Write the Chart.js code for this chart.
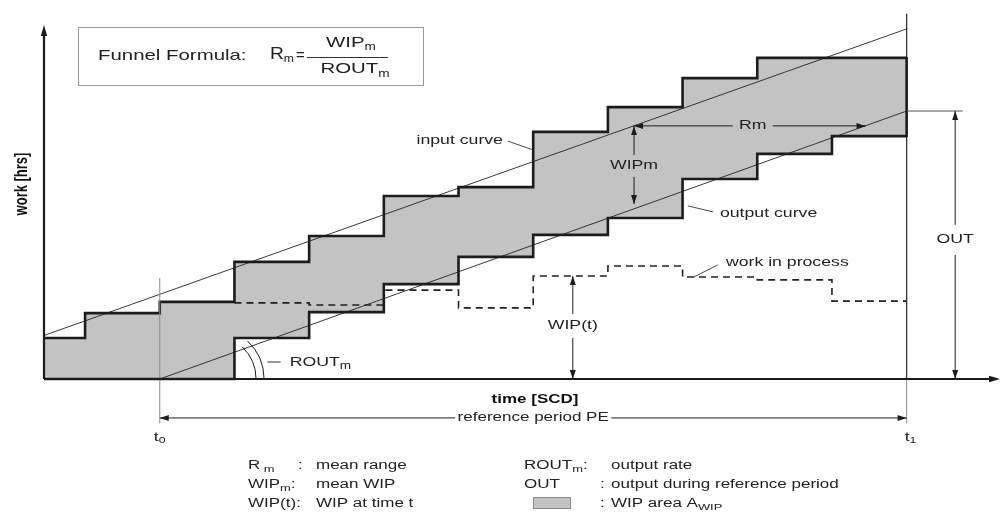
<!DOCTYPE html>
<html><head><meta charset="utf-8">
<script src="https://cdn.jsdelivr.net/npm/chart.js@4/dist/chart.umd.min.js"></script>
<style>html,body{margin:0;padding:0;background:#fff;overflow:hidden}canvas{display:block}</style>
</head><body>
<canvas id="c" width="1001" height="514"></canvas>
<script>
// ---- data (time in SCD, work in hrs) ----
const timeRange = [0, 128];
const workRange = [0, 100];
const inputT  = [0, 5.5, 15.5, 25.5, 35.5, 45.5, 55.5, 65.5, 75.5, 85.5, 95.5, 115.5];
const inputW  = [11.6, 18.6, 21.8, 33.1, 40.4, 51.7, 54.2, 69.8, 76.8, 85.0, 90.7, 90.7];
const outputT = [0, 25.5, 35.5, 45.5, 55.5, 65.5, 75.5, 85.5, 95.5, 105.5, 115.5];
const outputW = [0, 11.6, 18.9, 26.8, 34.5, 40.7, 45.5, 56.5, 63.6, 68.6, 68.6];
const wipT    = [25.5, 35.5, 45.5, 55.5, 65.5, 75.5, 85.5, 95.5, 105.5, 115.5];
const wipW    = [21.5, 20.9, 25.1, 20.1, 29.1, 31.9, 28.8, 28.0, 22.0, 22.0];
const inputLineT  = [0, 115.5];
const inputLineW  = [12.3, 98.9];
const outputLineT = [15.5, 115.5];
const outputLineW = [0, 75.7];
const periodT = [15.5, 115.5]; // t0, t1

// ---- annotation anchors (data units) ----
const annRm   = {w: 71.5, from: 79, to: 110, label: 94.9};
const annWipm = {t: 79, from: 71.5, to: 49.4, label: 60.2};
const annWipt = {t: 70.8, from: 29.1, to: 0, label: 15.0};
const annOut  = {t: 122, from: 75.7, to: 0, label: 39.3, tickTo: 123};

const FONT = '"Liberation Sans", Arial, Helvetica, sans-serif';
const SX = 1.36;
const INK = '#1c1c1c';
const GRAY = '#c3c3c3';

function txt(ctx, str, x, y, opt) {
  opt = opt || {};
  const size = opt.size || 13;
  const sx = opt.sx || SX;
  ctx.save();
  ctx.font = (opt.bold ? 'bold ' : '') + size + 'px ' + FONT;
  ctx.fillStyle = opt.color || '#222';
  ctx.textBaseline = 'middle';
  ctx.textAlign = 'left';
  const w = ctx.measureText(str).width * sx;
  let x0 = x;
  if (opt.align === 'center') x0 = x - w / 2;
  else if (opt.align === 'right') x0 = x - w;
  ctx.translate(x0, y);
  ctx.scale(sx, 1);
  ctx.fillText(str, 0, 0);
  ctx.restore();
  return w;
}
function rich(ctx, parts, x, y, opt) {
  opt = opt || {};
  const sx = opt.sx || SX;
  const widths = parts.map(p => { ctx.font = p[1] + 'px ' + FONT; return ctx.measureText(p[0]).width * sx; });
  const total = widths.reduce((a, b) => a + b, 0);
  let cx = opt.align === 'center' ? x - total / 2 : opt.align === 'right' ? x - total : x;
  parts.forEach((p, i) => { txt(ctx, p[0], cx, y + (p[2] || 0), {size: p[1], color: opt.color, sx: sx}); cx += widths[i]; });
  return total;
}
function seg(ctx, x1, y1, x2, y2, w, c, dash) {
  ctx.save();
  ctx.beginPath();
  ctx.lineWidth = w || 1;
  ctx.strokeStyle = c || INK;
  if (dash) ctx.setLineDash(dash);
  ctx.moveTo(x1, y1); ctx.lineTo(x2, y2);
  ctx.stroke();
  ctx.restore();
}
function head(ctx, x, y, dx, dy, len, half, c) {
  len = len || 9; half = half || 3;
  const L = Math.hypot(dx, dy), ux = dx / L, uy = dy / L;
  ctx.save();
  ctx.fillStyle = c || INK;
  ctx.beginPath();
  ctx.moveTo(x, y);
  ctx.lineTo(x - ux * len - uy * half, y - uy * len + ux * half);
  ctx.lineTo(x - ux * len + uy * half, y - uy * len - ux * half);
  ctx.closePath();
  ctx.fill();
  ctx.restore();
}
// double-headed dimension arrow with a gap for a label
function dim(ctx, x1, y1, x2, y2, gc, gh) {
  const horiz = Math.abs(y2 - y1) < 0.5;
  if (horiz) {
    const a = Math.min(x1, x2), b = Math.max(x1, x2);
    seg(ctx, a, y1, gc - gh, y1, 1);
    seg(ctx, gc + gh, y1, b, y1, 1);
    head(ctx, a, y1, -1, 0); head(ctx, b, y1, 1, 0);
  } else {
    const a = Math.min(y1, y2), b = Math.max(y1, y2);
    seg(ctx, x1, a, x1, gc - gh, 1);
    seg(ctx, x1, gc + gh, x1, b, 1);
    head(ctx, x1, a, 0, -1); head(ctx, x1, b, 0, 1);
  }
}

const annotate = {
  id: 'annotate',
  afterDatasetsDraw(chart) {
    const ctx = chart.ctx, xs = chart.scales.x, ys = chart.scales.y;
    const X = v => xs.getPixelForValue(v), Y = v => ys.getPixelForValue(v);

    // t0 / t1 reference lines
    seg(ctx, X(periodT[0]), Y(28.5), X(periodT[0]), Y(-12.5), 1, '#8a8a8a');
    seg(ctx, X(periodT[1]), Y(103.2), X(periodT[1]), Y(0), 1.3, '#333');
    seg(ctx, X(periodT[1]), Y(0), X(periodT[1]), Y(-12.5), 1, '#8a8a8a');
    // closing vertical of the WIP area at t1
    seg(ctx, X(inputT[inputT.length - 1]), Y(inputW[inputW.length - 1]) - 1, X(inputT[inputT.length - 1]), Y(outputW[outputW.length - 1]) + 1, 2.6, INK);

    // axes
    seg(ctx, X(0), Y(0), X(0), Y(workRange[1]) + 6, 2.2, INK);
    head(ctx, X(0), Y(workRange[1]), 0, -1, 11, 3.2);
    seg(ctx, X(0), Y(0), X(timeRange[1]) - 6, Y(0), 2.2, INK);
    head(ctx, X(timeRange[1]), Y(0), 1, 0, 11, 3.2);

    ctx.save();
    // Rm
    dim(ctx, X(annRm.from), Y(annRm.w), X(annRm.to), Y(annRm.w), X(annRm.label), 20);
    txt(ctx, 'Rm', X(annRm.label), Y(annRm.w), {align: 'center'});
    // WIPm
    dim(ctx, X(annWipm.t), Y(annWipm.from), X(annWipm.t), Y(annWipm.to), Y(annWipm.label), 11);
    txt(ctx, 'WIPm', X(annWipm.t), Y(annWipm.label), {align: 'center'});
    // WIP(t)
    dim(ctx, X(annWipt.t), Y(annWipt.from), X(annWipt.t), Y(annWipt.to), Y(annWipt.label), 12);
    txt(ctx, 'WIP(t)', X(annWipt.t), Y(annWipt.label), {align: 'center'});
    // OUT
    seg(ctx, X(periodT[1]), Y(annOut.from), X(annOut.tickTo), Y(annOut.from), 1, '#555');
    dim(ctx, X(annOut.t), Y(annOut.from), X(annOut.t), Y(annOut.to), Y(annOut.label), 15);
    txt(ctx, 'OUT', X(annOut.t), Y(annOut.label), {align: 'center'});

    // curve labels with leaders
    txt(ctx, 'input curve', X(61.45), Y(67.5), {align: 'right'});
    seg(ctx, X(62.1), Y(67.2), X(65.5), Y(64.7), 0.9, '#333');
    txt(ctx, 'output curve', X(90.5), Y(46.9));
    seg(ctx, X(86.2), Y(48.9), X(89.6), Y(47.2), 0.9, '#333');
    txt(ctx, 'work in process', X(91.3), Y(32.8));
    seg(ctx, X(87.0), Y(28.8), X(90.2), Y(32.2), 0.9, '#333');

    // ROUT_m angle marks
    ctx.strokeStyle = INK; ctx.lineWidth = 1;
    [44, 52].forEach(r => { ctx.beginPath(); ctx.arc(X(22.5), Y(0), r, -0.82, 0); ctx.stroke(); });
    seg(ctx, X(29.9), Y(4.8), X(31.7), Y(4.8), 1, '#333');
    rich(ctx, [['ROUT', 13, 0], ['m', 10, 4]], X(32.9), Y(4.8));

    // reference period
    const ry = Y(-11.0);
    dim(ctx, X(periodT[0]), ry, X(periodT[1]), ry, (X(periodT[0]) + X(periodT[1])) / 2, 78);
    txt(ctx, 'reference period PE', (X(periodT[0]) + X(periodT[1])) / 2, ry, {size: 12.5, align: 'center'});
    rich(ctx, [['t', 13, 0], ['0', 9, 4]], X(periodT[0]) - 6, 437);
    rich(ctx, [['t', 13, 0], ['1', 9, 4]], X(periodT[1]) - 2, 437);

    // axis titles
    txt(ctx, 'time [SCD]', 535, 400, {bold: true, size: 12.5, align: 'center', color: '#111'});
    ctx.save();
    ctx.translate(22, 184);
    ctx.font = 'bold 13px ' + FONT;
    ctx.fillStyle = '#111';
    ctx.scale(SX, 1);
    ctx.rotate(-Math.PI / 2);
    ctx.textAlign = 'center'; ctx.textBaseline = 'middle';
    ctx.fillText('work [hrs]', 0, 0);
    ctx.restore();

    // formula box
    ctx.fillStyle = '#fff';
    ctx.fillRect(78.5, 27.5, 345, 58);
    ctx.strokeStyle = '#999'; ctx.lineWidth = 1;
    ctx.strokeRect(78.5, 27.5, 345, 58);
    txt(ctx, 'Funnel Formula:', 98, 56, {size: 15});
    rich(ctx, [['R', 16, 0], ['m', 10, 4]], 270, 55, {sx: 1.2});
    txt(ctx, '=', 300.5, 56, {size: 15, align: 'center', sx: 1.0});
    seg(ctx, 307, 57.5, 388, 57.5, 1, '#333');
    rich(ctx, [['WIP', 15, 0], ['m', 10, 4]], 351, 43, {align: 'center'});
    rich(ctx, [['ROUT', 15, 0], ['m', 10, 5]], 355, 69, {align: 'center'});

    // legend
    const r1 = 466, r2 = 485, r3 = 504, ls = 12.5, ss = 9.5;
    rich(ctx, [['R', ls, 0], [' m', ss, 3]], 248, r1);
    txt(ctx, ':', 298, r1, {size: ls});
    txt(ctx, 'mean range', 316, r1, {size: ls});
    rich(ctx, [['WIP', ls, 0], ['m', ss, 3], [':', ls, 0]], 248, r2);
    txt(ctx, 'mean WIP', 316, r2, {size: ls});
    txt(ctx, 'WIP(t):', 248, r3, {size: ls});
    txt(ctx, 'WIP at time t', 316, r3, {size: ls});
    rich(ctx, [['ROUT', ls, 0], ['m', ss, 3], [':', ls, 0]], 524, r1);
    txt(ctx, 'output rate', 611, r1, {size: ls});
    txt(ctx, 'OUT', 524, r2, {size: ls});
    txt(ctx, ':', 600, r2, {size: ls});
    txt(ctx, 'output during reference period', 611, r2, {size: ls});
    ctx.fillStyle = GRAY; ctx.fillRect(533.5, 497.5, 37, 11);
    ctx.strokeStyle = '#888'; ctx.lineWidth = 1; ctx.strokeRect(533.5, 497.5, 37, 11);
    txt(ctx, ':', 600, r3, {size: ls});
    rich(ctx, [['WIP area A', ls, 0], ['WIP', ss, 3]], 611, r3);
    ctx.restore();
  }
};

const toXY = (ts, ws) => ts.map((t, i) => ({x: t, y: ws[i]}));

new Chart(document.getElementById('c'), {
  type: 'line',
  data: {
    datasets: [
      {label: 'input curve', data: toXY(inputT, inputW), stepped: true, borderColor: INK, borderWidth: 2.6,
       fill: '+1', backgroundColor: GRAY, pointRadius: 0, clip: 8},
      {label: 'output curve', data: toXY(outputT, outputW), stepped: true, borderColor: INK, borderWidth: 2.6,
       fill: false, pointRadius: 0, clip: 8},
      {label: 'work in process', data: toXY(wipT, wipW), stepped: true, borderColor: '#222', borderWidth: 1.6,
       borderDash: [7, 5], fill: false, pointRadius: 0, clip: 8},
      {label: 'input line', data: toXY(inputLineT, inputLineW), borderColor: '#222', borderWidth: 0.9,
       fill: false, pointRadius: 0, clip: 8},
      {label: 'output line', data: toXY(outputLineT, outputLineW), borderColor: '#222', borderWidth: 0.9,
       fill: false, pointRadius: 0, clip: 8}
    ]
  },
  options: {
    responsive: false, animation: false, devicePixelRatio: 1, events: [],
    layout: {padding: {left: 44, right: 1, top: 25, bottom: 135}},
    scales: {
      x: {type: 'linear', min: timeRange[0], max: timeRange[1], display: false},
      y: {type: 'linear', min: workRange[0], max: workRange[1], display: false}
    },
    plugins: {legend: {display: false}, tooltip: {enabled: false}, filler: {drawTime: 'beforeDatasetsDraw'}}
  },
  plugins: [annotate]
});
</script>
</body></html>
